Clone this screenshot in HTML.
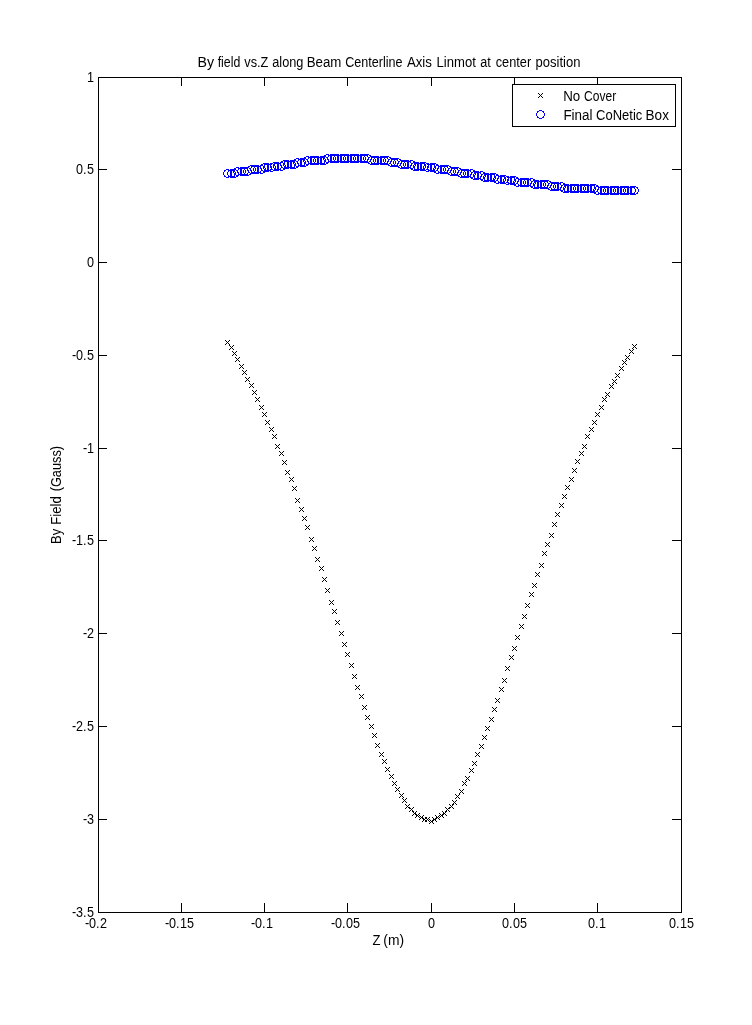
<!DOCTYPE html>
<html lang="en">
<head>
<meta charset="utf-8">
<title>By field vs.Z along Beam Centerline Axis Linmot at center position</title>
<style>
html,body{margin:0;padding:0;background:#fff;}
body{width:752px;height:1025px;overflow:hidden;}
svg{display:block;position:absolute;left:0;top:0;}
text{font-family:"Liberation Sans",sans-serif;font-size:14px;fill:#000;}
.px{shape-rendering:crispEdges;}
</style>
</head>
<body>
<svg width="752" height="1025" viewBox="0 0 752 1025">
<rect width="752" height="1025" fill="#fff"/>
<path class="px" fill="#000" d="M98 77h584v1h-584zM98 912h584v1h-584zM98 77h1v836h-1zM681 77h1v836h-1z"/>
<path class="px" fill="#000" d="M181 903h1v9h-1zM181 78h1v8h-1zM264 903h1v9h-1zM264 78h1v8h-1zM347 903h1v9h-1zM347 78h1v8h-1zM431 903h1v9h-1zM431 78h1v8h-1zM514 903h1v9h-1zM514 78h1v8h-1zM597 903h1v9h-1zM597 78h1v8h-1zM99 169h8v1h-8zM672 169h9v1h-9zM99 262h8v1h-8zM672 262h9v1h-9zM99 355h8v1h-8zM672 355h9v1h-9zM99 448h8v1h-8zM672 448h9v1h-9zM99 540h8v1h-8zM672 540h9v1h-9zM99 633h8v1h-8zM672 633h9v1h-9zM99 726h8v1h-8zM672 726h9v1h-9zM99 819h8v1h-8zM672 819h9v1h-9z"/>
<path class="px" fill="#000" d="M225 340h1v1h-1zM226 341h1v1h-1zM227 342h1v1h-1zM228 343h1v1h-1zM229 344h1v1h-1zM225 344h1v1h-1zM226 343h1v1h-1zM228 341h1v1h-1zM229 340h1v1h-1zM229 345h1v1h-1zM230 346h1v1h-1zM231 347h1v1h-1zM232 348h1v1h-1zM233 349h1v1h-1zM229 349h1v1h-1zM230 348h1v1h-1zM232 346h1v1h-1zM233 345h1v1h-1zM232 351h1v1h-1zM233 352h1v1h-1zM234 353h1v1h-1zM235 354h1v1h-1zM236 355h1v1h-1zM232 355h1v1h-1zM233 354h1v1h-1zM235 352h1v1h-1zM236 351h1v1h-1zM235 357h1v1h-1zM236 358h1v1h-1zM237 359h1v1h-1zM238 360h1v1h-1zM239 361h1v1h-1zM235 361h1v1h-1zM236 360h1v1h-1zM238 358h1v1h-1zM239 357h1v1h-1zM239 364h1v1h-1zM240 365h1v1h-1zM241 366h1v1h-1zM242 367h1v1h-1zM243 368h1v1h-1zM239 368h1v1h-1zM240 367h1v1h-1zM242 365h1v1h-1zM243 364h1v1h-1zM242 370h1v1h-1zM243 371h1v1h-1zM244 372h1v1h-1zM245 373h1v1h-1zM246 374h1v1h-1zM242 374h1v1h-1zM243 373h1v1h-1zM245 371h1v1h-1zM246 370h1v1h-1zM245 377h1v1h-1zM246 378h1v1h-1zM247 379h1v1h-1zM248 380h1v1h-1zM249 381h1v1h-1zM245 381h1v1h-1zM246 380h1v1h-1zM248 378h1v1h-1zM249 377h1v1h-1zM249 383h1v1h-1zM250 384h1v1h-1zM251 385h1v1h-1zM252 386h1v1h-1zM253 387h1v1h-1zM249 387h1v1h-1zM250 386h1v1h-1zM252 384h1v1h-1zM253 383h1v1h-1zM252 390h1v1h-1zM253 391h1v1h-1zM254 392h1v1h-1zM255 393h1v1h-1zM256 394h1v1h-1zM252 394h1v1h-1zM253 393h1v1h-1zM255 391h1v1h-1zM256 390h1v1h-1zM255 397h1v1h-1zM256 398h1v1h-1zM257 399h1v1h-1zM258 400h1v1h-1zM259 401h1v1h-1zM255 401h1v1h-1zM256 400h1v1h-1zM258 398h1v1h-1zM259 397h1v1h-1zM259 405h1v1h-1zM260 406h1v1h-1zM261 407h1v1h-1zM262 408h1v1h-1zM263 409h1v1h-1zM259 409h1v1h-1zM260 408h1v1h-1zM262 406h1v1h-1zM263 405h1v1h-1zM262 412h1v1h-1zM263 413h1v1h-1zM264 414h1v1h-1zM265 415h1v1h-1zM266 416h1v1h-1zM262 416h1v1h-1zM263 415h1v1h-1zM265 413h1v1h-1zM266 412h1v1h-1zM265 420h1v1h-1zM266 421h1v1h-1zM267 422h1v1h-1zM268 423h1v1h-1zM269 424h1v1h-1zM265 424h1v1h-1zM266 423h1v1h-1zM268 421h1v1h-1zM269 420h1v1h-1zM269 427h1v1h-1zM270 428h1v1h-1zM271 429h1v1h-1zM272 430h1v1h-1zM273 431h1v1h-1zM269 431h1v1h-1zM270 430h1v1h-1zM272 428h1v1h-1zM273 427h1v1h-1zM272 434h1v1h-1zM273 435h1v1h-1zM274 436h1v1h-1zM275 437h1v1h-1zM276 438h1v1h-1zM272 438h1v1h-1zM273 437h1v1h-1zM275 435h1v1h-1zM276 434h1v1h-1zM275 444h1v1h-1zM276 445h1v1h-1zM277 446h1v1h-1zM278 447h1v1h-1zM279 448h1v1h-1zM275 448h1v1h-1zM276 447h1v1h-1zM278 445h1v1h-1zM279 444h1v1h-1zM279 451h1v1h-1zM280 452h1v1h-1zM281 453h1v1h-1zM282 454h1v1h-1zM283 455h1v1h-1zM279 455h1v1h-1zM280 454h1v1h-1zM282 452h1v1h-1zM283 451h1v1h-1zM282 460h1v1h-1zM283 461h1v1h-1zM284 462h1v1h-1zM285 463h1v1h-1zM286 464h1v1h-1zM282 464h1v1h-1zM283 463h1v1h-1zM285 461h1v1h-1zM286 460h1v1h-1zM285 470h1v1h-1zM286 471h1v1h-1zM287 472h1v1h-1zM288 473h1v1h-1zM289 474h1v1h-1zM285 474h1v1h-1zM286 473h1v1h-1zM288 471h1v1h-1zM289 470h1v1h-1zM289 477h1v1h-1zM290 478h1v1h-1zM291 479h1v1h-1zM292 480h1v1h-1zM293 481h1v1h-1zM289 481h1v1h-1zM290 480h1v1h-1zM292 478h1v1h-1zM293 477h1v1h-1zM292 486h1v1h-1zM293 487h1v1h-1zM294 488h1v1h-1zM295 489h1v1h-1zM296 490h1v1h-1zM292 490h1v1h-1zM293 489h1v1h-1zM295 487h1v1h-1zM296 486h1v1h-1zM295 498h1v1h-1zM296 499h1v1h-1zM297 500h1v1h-1zM298 501h1v1h-1zM299 502h1v1h-1zM295 502h1v1h-1zM296 501h1v1h-1zM298 499h1v1h-1zM299 498h1v1h-1zM299 507h1v1h-1zM300 508h1v1h-1zM301 509h1v1h-1zM302 510h1v1h-1zM303 511h1v1h-1zM299 511h1v1h-1zM300 510h1v1h-1zM302 508h1v1h-1zM303 507h1v1h-1zM302 516h1v1h-1zM303 517h1v1h-1zM304 518h1v1h-1zM305 519h1v1h-1zM306 520h1v1h-1zM302 520h1v1h-1zM303 519h1v1h-1zM305 517h1v1h-1zM306 516h1v1h-1zM305 525h1v1h-1zM306 526h1v1h-1zM307 527h1v1h-1zM308 528h1v1h-1zM309 529h1v1h-1zM305 529h1v1h-1zM306 528h1v1h-1zM308 526h1v1h-1zM309 525h1v1h-1zM309 537h1v1h-1zM310 538h1v1h-1zM311 539h1v1h-1zM312 540h1v1h-1zM313 541h1v1h-1zM309 541h1v1h-1zM310 540h1v1h-1zM312 538h1v1h-1zM313 537h1v1h-1zM312 546h1v1h-1zM313 547h1v1h-1zM314 548h1v1h-1zM315 549h1v1h-1zM316 550h1v1h-1zM312 550h1v1h-1zM313 549h1v1h-1zM315 547h1v1h-1zM316 546h1v1h-1zM315 557h1v1h-1zM316 558h1v1h-1zM317 559h1v1h-1zM318 560h1v1h-1zM319 561h1v1h-1zM315 561h1v1h-1zM316 560h1v1h-1zM318 558h1v1h-1zM319 557h1v1h-1zM319 566h1v1h-1zM320 567h1v1h-1zM321 568h1v1h-1zM322 569h1v1h-1zM323 570h1v1h-1zM319 570h1v1h-1zM320 569h1v1h-1zM322 567h1v1h-1zM323 566h1v1h-1zM322 577h1v1h-1zM323 578h1v1h-1zM324 579h1v1h-1zM325 580h1v1h-1zM326 581h1v1h-1zM322 581h1v1h-1zM323 580h1v1h-1zM325 578h1v1h-1zM326 577h1v1h-1zM325 588h1v1h-1zM326 589h1v1h-1zM327 590h1v1h-1zM328 591h1v1h-1zM329 592h1v1h-1zM325 592h1v1h-1zM326 591h1v1h-1zM328 589h1v1h-1zM329 588h1v1h-1zM329 600h1v1h-1zM330 601h1v1h-1zM331 602h1v1h-1zM332 603h1v1h-1zM333 604h1v1h-1zM329 604h1v1h-1zM330 603h1v1h-1zM332 601h1v1h-1zM333 600h1v1h-1zM332 609h1v1h-1zM333 610h1v1h-1zM334 611h1v1h-1zM335 612h1v1h-1zM336 613h1v1h-1zM332 613h1v1h-1zM333 612h1v1h-1zM335 610h1v1h-1zM336 609h1v1h-1zM335 620h1v1h-1zM336 621h1v1h-1zM337 622h1v1h-1zM338 623h1v1h-1zM339 624h1v1h-1zM335 624h1v1h-1zM336 623h1v1h-1zM338 621h1v1h-1zM339 620h1v1h-1zM339 631h1v1h-1zM340 632h1v1h-1zM341 633h1v1h-1zM342 634h1v1h-1zM343 635h1v1h-1zM339 635h1v1h-1zM340 634h1v1h-1zM342 632h1v1h-1zM343 631h1v1h-1zM342 642h1v1h-1zM343 643h1v1h-1zM344 644h1v1h-1zM345 645h1v1h-1zM346 646h1v1h-1zM342 646h1v1h-1zM343 645h1v1h-1zM345 643h1v1h-1zM346 642h1v1h-1zM345 652h1v1h-1zM346 653h1v1h-1zM347 654h1v1h-1zM348 655h1v1h-1zM349 656h1v1h-1zM345 656h1v1h-1zM346 655h1v1h-1zM348 653h1v1h-1zM349 652h1v1h-1zM349 663h1v1h-1zM350 664h1v1h-1zM351 665h1v1h-1zM352 666h1v1h-1zM353 667h1v1h-1zM349 667h1v1h-1zM350 666h1v1h-1zM352 664h1v1h-1zM353 663h1v1h-1zM352 674h1v1h-1zM353 675h1v1h-1zM354 676h1v1h-1zM355 677h1v1h-1zM356 678h1v1h-1zM352 678h1v1h-1zM353 677h1v1h-1zM355 675h1v1h-1zM356 674h1v1h-1zM355 685h1v1h-1zM356 686h1v1h-1zM357 687h1v1h-1zM358 688h1v1h-1zM359 689h1v1h-1zM355 689h1v1h-1zM356 688h1v1h-1zM358 686h1v1h-1zM359 685h1v1h-1zM359 694h1v1h-1zM360 695h1v1h-1zM361 696h1v1h-1zM362 697h1v1h-1zM363 698h1v1h-1zM359 698h1v1h-1zM360 697h1v1h-1zM362 695h1v1h-1zM363 694h1v1h-1zM362 705h1v1h-1zM363 706h1v1h-1zM364 707h1v1h-1zM365 708h1v1h-1zM366 709h1v1h-1zM362 709h1v1h-1zM363 708h1v1h-1zM365 706h1v1h-1zM366 705h1v1h-1zM365 715h1v1h-1zM366 716h1v1h-1zM367 717h1v1h-1zM368 718h1v1h-1zM369 719h1v1h-1zM365 719h1v1h-1zM366 718h1v1h-1zM368 716h1v1h-1zM369 715h1v1h-1zM369 724h1v1h-1zM370 725h1v1h-1zM371 726h1v1h-1zM372 727h1v1h-1zM373 728h1v1h-1zM369 728h1v1h-1zM370 727h1v1h-1zM372 725h1v1h-1zM373 724h1v1h-1zM372 733h1v1h-1zM373 734h1v1h-1zM374 735h1v1h-1zM375 736h1v1h-1zM376 737h1v1h-1zM372 737h1v1h-1zM373 736h1v1h-1zM375 734h1v1h-1zM376 733h1v1h-1zM375 743h1v1h-1zM376 744h1v1h-1zM377 745h1v1h-1zM378 746h1v1h-1zM379 747h1v1h-1zM375 747h1v1h-1zM376 746h1v1h-1zM378 744h1v1h-1zM379 743h1v1h-1zM379 752h1v1h-1zM380 753h1v1h-1zM381 754h1v1h-1zM382 755h1v1h-1zM383 756h1v1h-1zM379 756h1v1h-1zM380 755h1v1h-1zM382 753h1v1h-1zM383 752h1v1h-1zM382 759h1v1h-1zM383 760h1v1h-1zM384 761h1v1h-1zM385 762h1v1h-1zM386 763h1v1h-1zM382 763h1v1h-1zM383 762h1v1h-1zM385 760h1v1h-1zM386 759h1v1h-1zM385 767h1v1h-1zM386 768h1v1h-1zM387 769h1v1h-1zM388 770h1v1h-1zM389 771h1v1h-1zM385 771h1v1h-1zM386 770h1v1h-1zM388 768h1v1h-1zM389 767h1v1h-1zM389 774h1v1h-1zM390 775h1v1h-1zM391 776h1v1h-1zM392 777h1v1h-1zM393 778h1v1h-1zM389 778h1v1h-1zM390 777h1v1h-1zM392 775h1v1h-1zM393 774h1v1h-1zM392 781h1v1h-1zM393 782h1v1h-1zM394 783h1v1h-1zM395 784h1v1h-1zM396 785h1v1h-1zM392 785h1v1h-1zM393 784h1v1h-1zM395 782h1v1h-1zM396 781h1v1h-1zM395 787h1v1h-1zM396 788h1v1h-1zM397 789h1v1h-1zM398 790h1v1h-1zM399 791h1v1h-1zM395 791h1v1h-1zM396 790h1v1h-1zM398 788h1v1h-1zM399 787h1v1h-1zM399 793h1v1h-1zM400 794h1v1h-1zM401 795h1v1h-1zM402 796h1v1h-1zM403 797h1v1h-1zM399 797h1v1h-1zM400 796h1v1h-1zM402 794h1v1h-1zM403 793h1v1h-1zM402 798h1v1h-1zM403 799h1v1h-1zM404 800h1v1h-1zM405 801h1v1h-1zM406 802h1v1h-1zM402 802h1v1h-1zM403 801h1v1h-1zM405 799h1v1h-1zM406 798h1v1h-1zM405 804h1v1h-1zM406 805h1v1h-1zM407 806h1v1h-1zM408 807h1v1h-1zM409 808h1v1h-1zM405 808h1v1h-1zM406 807h1v1h-1zM408 805h1v1h-1zM409 804h1v1h-1zM409 807h1v1h-1zM410 808h1v1h-1zM411 809h1v1h-1zM412 810h1v1h-1zM413 811h1v1h-1zM409 811h1v1h-1zM410 810h1v1h-1zM412 808h1v1h-1zM413 807h1v1h-1zM412 811h1v1h-1zM413 812h1v1h-1zM414 813h1v1h-1zM415 814h1v1h-1zM416 815h1v1h-1zM412 815h1v1h-1zM413 814h1v1h-1zM415 812h1v1h-1zM416 811h1v1h-1zM415 813h1v1h-1zM416 814h1v1h-1zM417 815h1v1h-1zM418 816h1v1h-1zM419 817h1v1h-1zM415 817h1v1h-1zM416 816h1v1h-1zM418 814h1v1h-1zM419 813h1v1h-1zM419 815h1v1h-1zM420 816h1v1h-1zM421 817h1v1h-1zM422 818h1v1h-1zM423 819h1v1h-1zM419 819h1v1h-1zM420 818h1v1h-1zM422 816h1v1h-1zM423 815h1v1h-1zM422 817h1v1h-1zM423 818h1v1h-1zM424 819h1v1h-1zM425 820h1v1h-1zM426 821h1v1h-1zM422 821h1v1h-1zM423 820h1v1h-1zM425 818h1v1h-1zM426 817h1v1h-1zM425 817h1v1h-1zM426 818h1v1h-1zM427 819h1v1h-1zM428 820h1v1h-1zM429 821h1v1h-1zM425 821h1v1h-1zM426 820h1v1h-1zM428 818h1v1h-1zM429 817h1v1h-1zM429 819h1v1h-1zM430 820h1v1h-1zM431 821h1v1h-1zM432 822h1v1h-1zM433 823h1v1h-1zM429 823h1v1h-1zM430 822h1v1h-1zM432 820h1v1h-1zM433 819h1v1h-1zM432 817h1v1h-1zM433 818h1v1h-1zM434 819h1v1h-1zM435 820h1v1h-1zM436 821h1v1h-1zM432 821h1v1h-1zM433 820h1v1h-1zM435 818h1v1h-1zM436 817h1v1h-1zM435 815h1v1h-1zM436 816h1v1h-1zM437 817h1v1h-1zM438 818h1v1h-1zM439 819h1v1h-1zM435 819h1v1h-1zM436 818h1v1h-1zM438 816h1v1h-1zM439 815h1v1h-1zM439 813h1v1h-1zM440 814h1v1h-1zM441 815h1v1h-1zM442 816h1v1h-1zM443 817h1v1h-1zM439 817h1v1h-1zM440 816h1v1h-1zM442 814h1v1h-1zM443 813h1v1h-1zM442 811h1v1h-1zM443 812h1v1h-1zM444 813h1v1h-1zM445 814h1v1h-1zM446 815h1v1h-1zM442 815h1v1h-1zM443 814h1v1h-1zM445 812h1v1h-1zM446 811h1v1h-1zM445 807h1v1h-1zM446 808h1v1h-1zM447 809h1v1h-1zM448 810h1v1h-1zM449 811h1v1h-1zM445 811h1v1h-1zM446 810h1v1h-1zM448 808h1v1h-1zM449 807h1v1h-1zM449 804h1v1h-1zM450 805h1v1h-1zM451 806h1v1h-1zM452 807h1v1h-1zM453 808h1v1h-1zM449 808h1v1h-1zM450 807h1v1h-1zM452 805h1v1h-1zM453 804h1v1h-1zM452 800h1v1h-1zM453 801h1v1h-1zM454 802h1v1h-1zM455 803h1v1h-1zM456 804h1v1h-1zM452 804h1v1h-1zM453 803h1v1h-1zM455 801h1v1h-1zM456 800h1v1h-1zM455 794h1v1h-1zM456 795h1v1h-1zM457 796h1v1h-1zM458 797h1v1h-1zM459 798h1v1h-1zM455 798h1v1h-1zM456 797h1v1h-1zM458 795h1v1h-1zM459 794h1v1h-1zM459 789h1v1h-1zM460 790h1v1h-1zM461 791h1v1h-1zM462 792h1v1h-1zM463 793h1v1h-1zM459 793h1v1h-1zM460 792h1v1h-1zM462 790h1v1h-1zM463 789h1v1h-1zM462 781h1v1h-1zM463 782h1v1h-1zM464 783h1v1h-1zM465 784h1v1h-1zM466 785h1v1h-1zM462 785h1v1h-1zM463 784h1v1h-1zM465 782h1v1h-1zM466 781h1v1h-1zM465 776h1v1h-1zM466 777h1v1h-1zM467 778h1v1h-1zM468 779h1v1h-1zM469 780h1v1h-1zM465 780h1v1h-1zM466 779h1v1h-1zM468 777h1v1h-1zM469 776h1v1h-1zM469 768h1v1h-1zM470 769h1v1h-1zM471 770h1v1h-1zM472 771h1v1h-1zM473 772h1v1h-1zM469 772h1v1h-1zM470 771h1v1h-1zM472 769h1v1h-1zM473 768h1v1h-1zM472 761h1v1h-1zM473 762h1v1h-1zM474 763h1v1h-1zM475 764h1v1h-1zM476 765h1v1h-1zM472 765h1v1h-1zM473 764h1v1h-1zM475 762h1v1h-1zM476 761h1v1h-1zM475 752h1v1h-1zM476 753h1v1h-1zM477 754h1v1h-1zM478 755h1v1h-1zM479 756h1v1h-1zM475 756h1v1h-1zM476 755h1v1h-1zM478 753h1v1h-1zM479 752h1v1h-1zM479 744h1v1h-1zM480 745h1v1h-1zM481 746h1v1h-1zM482 747h1v1h-1zM483 748h1v1h-1zM479 748h1v1h-1zM480 747h1v1h-1zM482 745h1v1h-1zM483 744h1v1h-1zM482 735h1v1h-1zM483 736h1v1h-1zM484 737h1v1h-1zM485 738h1v1h-1zM486 739h1v1h-1zM482 739h1v1h-1zM483 738h1v1h-1zM485 736h1v1h-1zM486 735h1v1h-1zM485 726h1v1h-1zM486 727h1v1h-1zM487 728h1v1h-1zM488 729h1v1h-1zM489 730h1v1h-1zM485 730h1v1h-1zM486 729h1v1h-1zM488 727h1v1h-1zM489 726h1v1h-1zM489 717h1v1h-1zM490 718h1v1h-1zM491 719h1v1h-1zM492 720h1v1h-1zM493 721h1v1h-1zM489 721h1v1h-1zM490 720h1v1h-1zM492 718h1v1h-1zM493 717h1v1h-1zM492 707h1v1h-1zM493 708h1v1h-1zM494 709h1v1h-1zM495 710h1v1h-1zM496 711h1v1h-1zM492 711h1v1h-1zM493 710h1v1h-1zM495 708h1v1h-1zM496 707h1v1h-1zM495 698h1v1h-1zM496 699h1v1h-1zM497 700h1v1h-1zM498 701h1v1h-1zM499 702h1v1h-1zM495 702h1v1h-1zM496 701h1v1h-1zM498 699h1v1h-1zM499 698h1v1h-1zM499 687h1v1h-1zM500 688h1v1h-1zM501 689h1v1h-1zM502 690h1v1h-1zM503 691h1v1h-1zM499 691h1v1h-1zM500 690h1v1h-1zM502 688h1v1h-1zM503 687h1v1h-1zM502 678h1v1h-1zM503 679h1v1h-1zM504 680h1v1h-1zM505 681h1v1h-1zM506 682h1v1h-1zM502 682h1v1h-1zM503 681h1v1h-1zM505 679h1v1h-1zM506 678h1v1h-1zM505 666h1v1h-1zM506 667h1v1h-1zM507 668h1v1h-1zM508 669h1v1h-1zM509 670h1v1h-1zM505 670h1v1h-1zM506 669h1v1h-1zM508 667h1v1h-1zM509 666h1v1h-1zM509 655h1v1h-1zM510 656h1v1h-1zM511 657h1v1h-1zM512 658h1v1h-1zM513 659h1v1h-1zM509 659h1v1h-1zM510 658h1v1h-1zM512 656h1v1h-1zM513 655h1v1h-1zM512 646h1v1h-1zM513 647h1v1h-1zM514 648h1v1h-1zM515 649h1v1h-1zM516 650h1v1h-1zM512 650h1v1h-1zM513 649h1v1h-1zM515 647h1v1h-1zM516 646h1v1h-1zM515 635h1v1h-1zM516 636h1v1h-1zM517 637h1v1h-1zM518 638h1v1h-1zM519 639h1v1h-1zM515 639h1v1h-1zM516 638h1v1h-1zM518 636h1v1h-1zM519 635h1v1h-1zM519 624h1v1h-1zM520 625h1v1h-1zM521 626h1v1h-1zM522 627h1v1h-1zM523 628h1v1h-1zM519 628h1v1h-1zM520 627h1v1h-1zM522 625h1v1h-1zM523 624h1v1h-1zM522 614h1v1h-1zM523 615h1v1h-1zM524 616h1v1h-1zM525 617h1v1h-1zM526 618h1v1h-1zM522 618h1v1h-1zM523 617h1v1h-1zM525 615h1v1h-1zM526 614h1v1h-1zM525 603h1v1h-1zM526 604h1v1h-1zM527 605h1v1h-1zM528 606h1v1h-1zM529 607h1v1h-1zM525 607h1v1h-1zM526 606h1v1h-1zM528 604h1v1h-1zM529 603h1v1h-1zM529 592h1v1h-1zM530 593h1v1h-1zM531 594h1v1h-1zM532 595h1v1h-1zM533 596h1v1h-1zM529 596h1v1h-1zM530 595h1v1h-1zM532 593h1v1h-1zM533 592h1v1h-1zM532 583h1v1h-1zM533 584h1v1h-1zM534 585h1v1h-1zM535 586h1v1h-1zM536 587h1v1h-1zM532 587h1v1h-1zM533 586h1v1h-1zM535 584h1v1h-1zM536 583h1v1h-1zM535 572h1v1h-1zM536 573h1v1h-1zM537 574h1v1h-1zM538 575h1v1h-1zM539 576h1v1h-1zM535 576h1v1h-1zM536 575h1v1h-1zM538 573h1v1h-1zM539 572h1v1h-1zM539 563h1v1h-1zM540 564h1v1h-1zM541 565h1v1h-1zM542 566h1v1h-1zM543 567h1v1h-1zM539 567h1v1h-1zM540 566h1v1h-1zM542 564h1v1h-1zM543 563h1v1h-1zM542 551h1v1h-1zM543 552h1v1h-1zM544 553h1v1h-1zM545 554h1v1h-1zM546 555h1v1h-1zM542 555h1v1h-1zM543 554h1v1h-1zM545 552h1v1h-1zM546 551h1v1h-1zM545 542h1v1h-1zM546 543h1v1h-1zM547 544h1v1h-1zM548 545h1v1h-1zM549 546h1v1h-1zM545 546h1v1h-1zM546 545h1v1h-1zM548 543h1v1h-1zM549 542h1v1h-1zM549 533h1v1h-1zM550 534h1v1h-1zM551 535h1v1h-1zM552 536h1v1h-1zM553 537h1v1h-1zM549 537h1v1h-1zM550 536h1v1h-1zM552 534h1v1h-1zM553 533h1v1h-1zM552 522h1v1h-1zM553 523h1v1h-1zM554 524h1v1h-1zM555 525h1v1h-1zM556 526h1v1h-1zM552 526h1v1h-1zM553 525h1v1h-1zM555 523h1v1h-1zM556 522h1v1h-1zM555 512h1v1h-1zM556 513h1v1h-1zM557 514h1v1h-1zM558 515h1v1h-1zM559 516h1v1h-1zM555 516h1v1h-1zM556 515h1v1h-1zM558 513h1v1h-1zM559 512h1v1h-1zM559 503h1v1h-1zM560 504h1v1h-1zM561 505h1v1h-1zM562 506h1v1h-1zM563 507h1v1h-1zM559 507h1v1h-1zM560 506h1v1h-1zM562 504h1v1h-1zM563 503h1v1h-1zM562 494h1v1h-1zM563 495h1v1h-1zM564 496h1v1h-1zM565 497h1v1h-1zM566 498h1v1h-1zM562 498h1v1h-1zM563 497h1v1h-1zM565 495h1v1h-1zM566 494h1v1h-1zM565 485h1v1h-1zM566 486h1v1h-1zM567 487h1v1h-1zM568 488h1v1h-1zM569 489h1v1h-1zM565 489h1v1h-1zM566 488h1v1h-1zM568 486h1v1h-1zM569 485h1v1h-1zM569 477h1v1h-1zM570 478h1v1h-1zM571 479h1v1h-1zM572 480h1v1h-1zM573 481h1v1h-1zM569 481h1v1h-1zM570 480h1v1h-1zM572 478h1v1h-1zM573 477h1v1h-1zM572 468h1v1h-1zM573 469h1v1h-1zM574 470h1v1h-1zM575 471h1v1h-1zM576 472h1v1h-1zM572 472h1v1h-1zM573 471h1v1h-1zM575 469h1v1h-1zM576 468h1v1h-1zM575 459h1v1h-1zM576 460h1v1h-1zM577 461h1v1h-1zM578 462h1v1h-1zM579 463h1v1h-1zM575 463h1v1h-1zM576 462h1v1h-1zM578 460h1v1h-1zM579 459h1v1h-1zM579 451h1v1h-1zM580 452h1v1h-1zM581 453h1v1h-1zM582 454h1v1h-1zM583 455h1v1h-1zM579 455h1v1h-1zM580 454h1v1h-1zM582 452h1v1h-1zM583 451h1v1h-1zM582 444h1v1h-1zM583 445h1v1h-1zM584 446h1v1h-1zM585 447h1v1h-1zM586 448h1v1h-1zM582 448h1v1h-1zM583 447h1v1h-1zM585 445h1v1h-1zM586 444h1v1h-1zM585 434h1v1h-1zM586 435h1v1h-1zM587 436h1v1h-1zM588 437h1v1h-1zM589 438h1v1h-1zM585 438h1v1h-1zM586 437h1v1h-1zM588 435h1v1h-1zM589 434h1v1h-1zM589 427h1v1h-1zM590 428h1v1h-1zM591 429h1v1h-1zM592 430h1v1h-1zM593 431h1v1h-1zM589 431h1v1h-1zM590 430h1v1h-1zM592 428h1v1h-1zM593 427h1v1h-1zM592 420h1v1h-1zM593 421h1v1h-1zM594 422h1v1h-1zM595 423h1v1h-1zM596 424h1v1h-1zM592 424h1v1h-1zM593 423h1v1h-1zM595 421h1v1h-1zM596 420h1v1h-1zM595 412h1v1h-1zM596 413h1v1h-1zM597 414h1v1h-1zM598 415h1v1h-1zM599 416h1v1h-1zM595 416h1v1h-1zM596 415h1v1h-1zM598 413h1v1h-1zM599 412h1v1h-1zM599 405h1v1h-1zM600 406h1v1h-1zM601 407h1v1h-1zM602 408h1v1h-1zM603 409h1v1h-1zM599 409h1v1h-1zM600 408h1v1h-1zM602 406h1v1h-1zM603 405h1v1h-1zM602 397h1v1h-1zM603 398h1v1h-1zM604 399h1v1h-1zM605 400h1v1h-1zM606 401h1v1h-1zM602 401h1v1h-1zM603 400h1v1h-1zM605 398h1v1h-1zM606 397h1v1h-1zM605 392h1v1h-1zM606 393h1v1h-1zM607 394h1v1h-1zM608 395h1v1h-1zM609 396h1v1h-1zM605 396h1v1h-1zM606 395h1v1h-1zM608 393h1v1h-1zM609 392h1v1h-1zM609 384h1v1h-1zM610 385h1v1h-1zM611 386h1v1h-1zM612 387h1v1h-1zM613 388h1v1h-1zM609 388h1v1h-1zM610 387h1v1h-1zM612 385h1v1h-1zM613 384h1v1h-1zM612 379h1v1h-1zM613 380h1v1h-1zM614 381h1v1h-1zM615 382h1v1h-1zM616 383h1v1h-1zM612 383h1v1h-1zM613 382h1v1h-1zM615 380h1v1h-1zM616 379h1v1h-1zM615 373h1v1h-1zM616 374h1v1h-1zM617 375h1v1h-1zM618 376h1v1h-1zM619 377h1v1h-1zM615 377h1v1h-1zM616 376h1v1h-1zM618 374h1v1h-1zM619 373h1v1h-1zM619 366h1v1h-1zM620 367h1v1h-1zM621 368h1v1h-1zM622 369h1v1h-1zM623 370h1v1h-1zM619 370h1v1h-1zM620 369h1v1h-1zM622 367h1v1h-1zM623 366h1v1h-1zM622 360h1v1h-1zM623 361h1v1h-1zM624 362h1v1h-1zM625 363h1v1h-1zM626 364h1v1h-1zM622 364h1v1h-1zM623 363h1v1h-1zM625 361h1v1h-1zM626 360h1v1h-1zM625 355h1v1h-1zM626 356h1v1h-1zM627 357h1v1h-1zM628 358h1v1h-1zM629 359h1v1h-1zM625 359h1v1h-1zM626 358h1v1h-1zM628 356h1v1h-1zM629 355h1v1h-1zM629 349h1v1h-1zM630 350h1v1h-1zM631 351h1v1h-1zM632 352h1v1h-1zM633 353h1v1h-1zM629 353h1v1h-1zM630 352h1v1h-1zM632 350h1v1h-1zM633 349h1v1h-1zM632 344h1v1h-1zM633 345h1v1h-1zM634 346h1v1h-1zM635 347h1v1h-1zM636 348h1v1h-1zM632 348h1v1h-1zM633 347h1v1h-1zM635 345h1v1h-1zM636 344h1v1h-1z"/>
<path class="px" fill="#00f" d="M226 169h3v1h-3zM224 170h2v1h-2zM229 170h2v1h-2zM224 171h1v1h-1zM230 171h1v1h-1zM223 172h1v1h-1zM231 172h1v1h-1zM223 173h1v1h-1zM231 173h1v1h-1zM223 174h1v1h-1zM231 174h1v1h-1zM224 175h1v1h-1zM230 175h1v1h-1zM224 176h2v1h-2zM229 176h2v1h-2zM226 177h3v1h-3zM230 169h3v1h-3zM228 170h2v1h-2zM233 170h2v1h-2zM228 171h1v1h-1zM234 171h1v1h-1zM227 172h1v1h-1zM235 172h1v1h-1zM227 173h1v1h-1zM235 173h1v1h-1zM227 174h1v1h-1zM235 174h1v1h-1zM228 175h1v1h-1zM234 175h1v1h-1zM228 176h2v1h-2zM233 176h2v1h-2zM230 177h3v1h-3zM233 169h3v1h-3zM231 170h2v1h-2zM236 170h2v1h-2zM231 171h1v1h-1zM237 171h1v1h-1zM230 172h1v1h-1zM238 172h1v1h-1zM230 173h1v1h-1zM238 173h1v1h-1zM230 174h1v1h-1zM238 174h1v1h-1zM231 175h1v1h-1zM237 175h1v1h-1zM231 176h2v1h-2zM236 176h2v1h-2zM233 177h3v1h-3zM236 167h3v1h-3zM234 168h2v1h-2zM239 168h2v1h-2zM234 169h1v1h-1zM240 169h1v1h-1zM233 170h1v1h-1zM241 170h1v1h-1zM233 171h1v1h-1zM241 171h1v1h-1zM233 172h1v1h-1zM241 172h1v1h-1zM234 173h1v1h-1zM240 173h1v1h-1zM234 174h2v1h-2zM239 174h2v1h-2zM236 175h3v1h-3zM240 167h3v1h-3zM238 168h2v1h-2zM243 168h2v1h-2zM238 169h1v1h-1zM244 169h1v1h-1zM237 170h1v1h-1zM245 170h1v1h-1zM237 171h1v1h-1zM245 171h1v1h-1zM237 172h1v1h-1zM245 172h1v1h-1zM238 173h1v1h-1zM244 173h1v1h-1zM238 174h2v1h-2zM243 174h2v1h-2zM240 175h3v1h-3zM243 167h3v1h-3zM241 168h2v1h-2zM246 168h2v1h-2zM241 169h1v1h-1zM247 169h1v1h-1zM240 170h1v1h-1zM248 170h1v1h-1zM240 171h1v1h-1zM248 171h1v1h-1zM240 172h1v1h-1zM248 172h1v1h-1zM241 173h1v1h-1zM247 173h1v1h-1zM241 174h2v1h-2zM246 174h2v1h-2zM243 175h3v1h-3zM246 167h3v1h-3zM244 168h2v1h-2zM249 168h2v1h-2zM244 169h1v1h-1zM250 169h1v1h-1zM243 170h1v1h-1zM251 170h1v1h-1zM243 171h1v1h-1zM251 171h1v1h-1zM243 172h1v1h-1zM251 172h1v1h-1zM244 173h1v1h-1zM250 173h1v1h-1zM244 174h2v1h-2zM249 174h2v1h-2zM246 175h3v1h-3zM250 165h3v1h-3zM248 166h2v1h-2zM253 166h2v1h-2zM248 167h1v1h-1zM254 167h1v1h-1zM247 168h1v1h-1zM255 168h1v1h-1zM247 169h1v1h-1zM255 169h1v1h-1zM247 170h1v1h-1zM255 170h1v1h-1zM248 171h1v1h-1zM254 171h1v1h-1zM248 172h2v1h-2zM253 172h2v1h-2zM250 173h3v1h-3zM253 165h3v1h-3zM251 166h2v1h-2zM256 166h2v1h-2zM251 167h1v1h-1zM257 167h1v1h-1zM250 168h1v1h-1zM258 168h1v1h-1zM250 169h1v1h-1zM258 169h1v1h-1zM250 170h1v1h-1zM258 170h1v1h-1zM251 171h1v1h-1zM257 171h1v1h-1zM251 172h2v1h-2zM256 172h2v1h-2zM253 173h3v1h-3zM256 165h3v1h-3zM254 166h2v1h-2zM259 166h2v1h-2zM254 167h1v1h-1zM260 167h1v1h-1zM253 168h1v1h-1zM261 168h1v1h-1zM253 169h1v1h-1zM261 169h1v1h-1zM253 170h1v1h-1zM261 170h1v1h-1zM254 171h1v1h-1zM260 171h1v1h-1zM254 172h2v1h-2zM259 172h2v1h-2zM256 173h3v1h-3zM260 165h3v1h-3zM258 166h2v1h-2zM263 166h2v1h-2zM258 167h1v1h-1zM264 167h1v1h-1zM257 168h1v1h-1zM265 168h1v1h-1zM257 169h1v1h-1zM265 169h1v1h-1zM257 170h1v1h-1zM265 170h1v1h-1zM258 171h1v1h-1zM264 171h1v1h-1zM258 172h2v1h-2zM263 172h2v1h-2zM260 173h3v1h-3zM263 163h3v1h-3zM261 164h2v1h-2zM266 164h2v1h-2zM261 165h1v1h-1zM267 165h1v1h-1zM260 166h1v1h-1zM268 166h1v1h-1zM260 167h1v1h-1zM268 167h1v1h-1zM260 168h1v1h-1zM268 168h1v1h-1zM261 169h1v1h-1zM267 169h1v1h-1zM261 170h2v1h-2zM266 170h2v1h-2zM263 171h3v1h-3zM266 163h3v1h-3zM264 164h2v1h-2zM269 164h2v1h-2zM264 165h1v1h-1zM270 165h1v1h-1zM263 166h1v1h-1zM271 166h1v1h-1zM263 167h1v1h-1zM271 167h1v1h-1zM263 168h1v1h-1zM271 168h1v1h-1zM264 169h1v1h-1zM270 169h1v1h-1zM264 170h2v1h-2zM269 170h2v1h-2zM266 171h3v1h-3zM270 163h3v1h-3zM268 164h2v1h-2zM273 164h2v1h-2zM268 165h1v1h-1zM274 165h1v1h-1zM267 166h1v1h-1zM275 166h1v1h-1zM267 167h1v1h-1zM275 167h1v1h-1zM267 168h1v1h-1zM275 168h1v1h-1zM268 169h1v1h-1zM274 169h1v1h-1zM268 170h2v1h-2zM273 170h2v1h-2zM270 171h3v1h-3zM273 162h3v1h-3zM271 163h2v1h-2zM276 163h2v1h-2zM271 164h1v1h-1zM277 164h1v1h-1zM270 165h1v1h-1zM278 165h1v1h-1zM270 166h1v1h-1zM278 166h1v1h-1zM270 167h1v1h-1zM278 167h1v1h-1zM271 168h1v1h-1zM277 168h1v1h-1zM271 169h2v1h-2zM276 169h2v1h-2zM273 170h3v1h-3zM276 162h3v1h-3zM274 163h2v1h-2zM279 163h2v1h-2zM274 164h1v1h-1zM280 164h1v1h-1zM273 165h1v1h-1zM281 165h1v1h-1zM273 166h1v1h-1zM281 166h1v1h-1zM273 167h1v1h-1zM281 167h1v1h-1zM274 168h1v1h-1zM280 168h1v1h-1zM274 169h2v1h-2zM279 169h2v1h-2zM276 170h3v1h-3zM280 162h3v1h-3zM278 163h2v1h-2zM283 163h2v1h-2zM278 164h1v1h-1zM284 164h1v1h-1zM277 165h1v1h-1zM285 165h1v1h-1zM277 166h1v1h-1zM285 166h1v1h-1zM277 167h1v1h-1zM285 167h1v1h-1zM278 168h1v1h-1zM284 168h1v1h-1zM278 169h2v1h-2zM283 169h2v1h-2zM280 170h3v1h-3zM283 160h3v1h-3zM281 161h2v1h-2zM286 161h2v1h-2zM281 162h1v1h-1zM287 162h1v1h-1zM280 163h1v1h-1zM288 163h1v1h-1zM280 164h1v1h-1zM288 164h1v1h-1zM280 165h1v1h-1zM288 165h1v1h-1zM281 166h1v1h-1zM287 166h1v1h-1zM281 167h2v1h-2zM286 167h2v1h-2zM283 168h3v1h-3zM286 160h3v1h-3zM284 161h2v1h-2zM289 161h2v1h-2zM284 162h1v1h-1zM290 162h1v1h-1zM283 163h1v1h-1zM291 163h1v1h-1zM283 164h1v1h-1zM291 164h1v1h-1zM283 165h1v1h-1zM291 165h1v1h-1zM284 166h1v1h-1zM290 166h1v1h-1zM284 167h2v1h-2zM289 167h2v1h-2zM286 168h3v1h-3zM290 160h3v1h-3zM288 161h2v1h-2zM293 161h2v1h-2zM288 162h1v1h-1zM294 162h1v1h-1zM287 163h1v1h-1zM295 163h1v1h-1zM287 164h1v1h-1zM295 164h1v1h-1zM287 165h1v1h-1zM295 165h1v1h-1zM288 166h1v1h-1zM294 166h1v1h-1zM288 167h2v1h-2zM293 167h2v1h-2zM290 168h3v1h-3zM293 160h3v1h-3zM291 161h2v1h-2zM296 161h2v1h-2zM291 162h1v1h-1zM297 162h1v1h-1zM290 163h1v1h-1zM298 163h1v1h-1zM290 164h1v1h-1zM298 164h1v1h-1zM290 165h1v1h-1zM298 165h1v1h-1zM291 166h1v1h-1zM297 166h1v1h-1zM291 167h2v1h-2zM296 167h2v1h-2zM293 168h3v1h-3zM296 158h3v1h-3zM294 159h2v1h-2zM299 159h2v1h-2zM294 160h1v1h-1zM300 160h1v1h-1zM293 161h1v1h-1zM301 161h1v1h-1zM293 162h1v1h-1zM301 162h1v1h-1zM293 163h1v1h-1zM301 163h1v1h-1zM294 164h1v1h-1zM300 164h1v1h-1zM294 165h2v1h-2zM299 165h2v1h-2zM296 166h3v1h-3zM300 158h3v1h-3zM298 159h2v1h-2zM303 159h2v1h-2zM298 160h1v1h-1zM304 160h1v1h-1zM297 161h1v1h-1zM305 161h1v1h-1zM297 162h1v1h-1zM305 162h1v1h-1zM297 163h1v1h-1zM305 163h1v1h-1zM298 164h1v1h-1zM304 164h1v1h-1zM298 165h2v1h-2zM303 165h2v1h-2zM300 166h3v1h-3zM303 158h3v1h-3zM301 159h2v1h-2zM306 159h2v1h-2zM301 160h1v1h-1zM307 160h1v1h-1zM300 161h1v1h-1zM308 161h1v1h-1zM300 162h1v1h-1zM308 162h1v1h-1zM300 163h1v1h-1zM308 163h1v1h-1zM301 164h1v1h-1zM307 164h1v1h-1zM301 165h2v1h-2zM306 165h2v1h-2zM303 166h3v1h-3zM306 156h3v1h-3zM304 157h2v1h-2zM309 157h2v1h-2zM304 158h1v1h-1zM310 158h1v1h-1zM303 159h1v1h-1zM311 159h1v1h-1zM303 160h1v1h-1zM311 160h1v1h-1zM303 161h1v1h-1zM311 161h1v1h-1zM304 162h1v1h-1zM310 162h1v1h-1zM304 163h2v1h-2zM309 163h2v1h-2zM306 164h3v1h-3zM310 156h3v1h-3zM308 157h2v1h-2zM313 157h2v1h-2zM308 158h1v1h-1zM314 158h1v1h-1zM307 159h1v1h-1zM315 159h1v1h-1zM307 160h1v1h-1zM315 160h1v1h-1zM307 161h1v1h-1zM315 161h1v1h-1zM308 162h1v1h-1zM314 162h1v1h-1zM308 163h2v1h-2zM313 163h2v1h-2zM310 164h3v1h-3zM313 156h3v1h-3zM311 157h2v1h-2zM316 157h2v1h-2zM311 158h1v1h-1zM317 158h1v1h-1zM310 159h1v1h-1zM318 159h1v1h-1zM310 160h1v1h-1zM318 160h1v1h-1zM310 161h1v1h-1zM318 161h1v1h-1zM311 162h1v1h-1zM317 162h1v1h-1zM311 163h2v1h-2zM316 163h2v1h-2zM313 164h3v1h-3zM316 156h3v1h-3zM314 157h2v1h-2zM319 157h2v1h-2zM314 158h1v1h-1zM320 158h1v1h-1zM313 159h1v1h-1zM321 159h1v1h-1zM313 160h1v1h-1zM321 160h1v1h-1zM313 161h1v1h-1zM321 161h1v1h-1zM314 162h1v1h-1zM320 162h1v1h-1zM314 163h2v1h-2zM319 163h2v1h-2zM316 164h3v1h-3zM320 156h3v1h-3zM318 157h2v1h-2zM323 157h2v1h-2zM318 158h1v1h-1zM324 158h1v1h-1zM317 159h1v1h-1zM325 159h1v1h-1zM317 160h1v1h-1zM325 160h1v1h-1zM317 161h1v1h-1zM325 161h1v1h-1zM318 162h1v1h-1zM324 162h1v1h-1zM318 163h2v1h-2zM323 163h2v1h-2zM320 164h3v1h-3zM323 156h3v1h-3zM321 157h2v1h-2zM326 157h2v1h-2zM321 158h1v1h-1zM327 158h1v1h-1zM320 159h1v1h-1zM328 159h1v1h-1zM320 160h1v1h-1zM328 160h1v1h-1zM320 161h1v1h-1zM328 161h1v1h-1zM321 162h1v1h-1zM327 162h1v1h-1zM321 163h2v1h-2zM326 163h2v1h-2zM323 164h3v1h-3zM326 154h3v1h-3zM324 155h2v1h-2zM329 155h2v1h-2zM324 156h1v1h-1zM330 156h1v1h-1zM323 157h1v1h-1zM331 157h1v1h-1zM323 158h1v1h-1zM331 158h1v1h-1zM323 159h1v1h-1zM331 159h1v1h-1zM324 160h1v1h-1zM330 160h1v1h-1zM324 161h2v1h-2zM329 161h2v1h-2zM326 162h3v1h-3zM330 154h3v1h-3zM328 155h2v1h-2zM333 155h2v1h-2zM328 156h1v1h-1zM334 156h1v1h-1zM327 157h1v1h-1zM335 157h1v1h-1zM327 158h1v1h-1zM335 158h1v1h-1zM327 159h1v1h-1zM335 159h1v1h-1zM328 160h1v1h-1zM334 160h1v1h-1zM328 161h2v1h-2zM333 161h2v1h-2zM330 162h3v1h-3zM333 154h3v1h-3zM331 155h2v1h-2zM336 155h2v1h-2zM331 156h1v1h-1zM337 156h1v1h-1zM330 157h1v1h-1zM338 157h1v1h-1zM330 158h1v1h-1zM338 158h1v1h-1zM330 159h1v1h-1zM338 159h1v1h-1zM331 160h1v1h-1zM337 160h1v1h-1zM331 161h2v1h-2zM336 161h2v1h-2zM333 162h3v1h-3zM336 154h3v1h-3zM334 155h2v1h-2zM339 155h2v1h-2zM334 156h1v1h-1zM340 156h1v1h-1zM333 157h1v1h-1zM341 157h1v1h-1zM333 158h1v1h-1zM341 158h1v1h-1zM333 159h1v1h-1zM341 159h1v1h-1zM334 160h1v1h-1zM340 160h1v1h-1zM334 161h2v1h-2zM339 161h2v1h-2zM336 162h3v1h-3zM340 154h3v1h-3zM338 155h2v1h-2zM343 155h2v1h-2zM338 156h1v1h-1zM344 156h1v1h-1zM337 157h1v1h-1zM345 157h1v1h-1zM337 158h1v1h-1zM345 158h1v1h-1zM337 159h1v1h-1zM345 159h1v1h-1zM338 160h1v1h-1zM344 160h1v1h-1zM338 161h2v1h-2zM343 161h2v1h-2zM340 162h3v1h-3zM343 154h3v1h-3zM341 155h2v1h-2zM346 155h2v1h-2zM341 156h1v1h-1zM347 156h1v1h-1zM340 157h1v1h-1zM348 157h1v1h-1zM340 158h1v1h-1zM348 158h1v1h-1zM340 159h1v1h-1zM348 159h1v1h-1zM341 160h1v1h-1zM347 160h1v1h-1zM341 161h2v1h-2zM346 161h2v1h-2zM343 162h3v1h-3zM346 154h3v1h-3zM344 155h2v1h-2zM349 155h2v1h-2zM344 156h1v1h-1zM350 156h1v1h-1zM343 157h1v1h-1zM351 157h1v1h-1zM343 158h1v1h-1zM351 158h1v1h-1zM343 159h1v1h-1zM351 159h1v1h-1zM344 160h1v1h-1zM350 160h1v1h-1zM344 161h2v1h-2zM349 161h2v1h-2zM346 162h3v1h-3zM350 154h3v1h-3zM348 155h2v1h-2zM353 155h2v1h-2zM348 156h1v1h-1zM354 156h1v1h-1zM347 157h1v1h-1zM355 157h1v1h-1zM347 158h1v1h-1zM355 158h1v1h-1zM347 159h1v1h-1zM355 159h1v1h-1zM348 160h1v1h-1zM354 160h1v1h-1zM348 161h2v1h-2zM353 161h2v1h-2zM350 162h3v1h-3zM353 154h3v1h-3zM351 155h2v1h-2zM356 155h2v1h-2zM351 156h1v1h-1zM357 156h1v1h-1zM350 157h1v1h-1zM358 157h1v1h-1zM350 158h1v1h-1zM358 158h1v1h-1zM350 159h1v1h-1zM358 159h1v1h-1zM351 160h1v1h-1zM357 160h1v1h-1zM351 161h2v1h-2zM356 161h2v1h-2zM353 162h3v1h-3zM356 154h3v1h-3zM354 155h2v1h-2zM359 155h2v1h-2zM354 156h1v1h-1zM360 156h1v1h-1zM353 157h1v1h-1zM361 157h1v1h-1zM353 158h1v1h-1zM361 158h1v1h-1zM353 159h1v1h-1zM361 159h1v1h-1zM354 160h1v1h-1zM360 160h1v1h-1zM354 161h2v1h-2zM359 161h2v1h-2zM356 162h3v1h-3zM360 154h3v1h-3zM358 155h2v1h-2zM363 155h2v1h-2zM358 156h1v1h-1zM364 156h1v1h-1zM357 157h1v1h-1zM365 157h1v1h-1zM357 158h1v1h-1zM365 158h1v1h-1zM357 159h1v1h-1zM365 159h1v1h-1zM358 160h1v1h-1zM364 160h1v1h-1zM358 161h2v1h-2zM363 161h2v1h-2zM360 162h3v1h-3zM363 154h3v1h-3zM361 155h2v1h-2zM366 155h2v1h-2zM361 156h1v1h-1zM367 156h1v1h-1zM360 157h1v1h-1zM368 157h1v1h-1zM360 158h1v1h-1zM368 158h1v1h-1zM360 159h1v1h-1zM368 159h1v1h-1zM361 160h1v1h-1zM367 160h1v1h-1zM361 161h2v1h-2zM366 161h2v1h-2zM363 162h3v1h-3zM366 154h3v1h-3zM364 155h2v1h-2zM369 155h2v1h-2zM364 156h1v1h-1zM370 156h1v1h-1zM363 157h1v1h-1zM371 157h1v1h-1zM363 158h1v1h-1zM371 158h1v1h-1zM363 159h1v1h-1zM371 159h1v1h-1zM364 160h1v1h-1zM370 160h1v1h-1zM364 161h2v1h-2zM369 161h2v1h-2zM366 162h3v1h-3zM370 156h3v1h-3zM368 157h2v1h-2zM373 157h2v1h-2zM368 158h1v1h-1zM374 158h1v1h-1zM367 159h1v1h-1zM375 159h1v1h-1zM367 160h1v1h-1zM375 160h1v1h-1zM367 161h1v1h-1zM375 161h1v1h-1zM368 162h1v1h-1zM374 162h1v1h-1zM368 163h2v1h-2zM373 163h2v1h-2zM370 164h3v1h-3zM373 156h3v1h-3zM371 157h2v1h-2zM376 157h2v1h-2zM371 158h1v1h-1zM377 158h1v1h-1zM370 159h1v1h-1zM378 159h1v1h-1zM370 160h1v1h-1zM378 160h1v1h-1zM370 161h1v1h-1zM378 161h1v1h-1zM371 162h1v1h-1zM377 162h1v1h-1zM371 163h2v1h-2zM376 163h2v1h-2zM373 164h3v1h-3zM376 156h3v1h-3zM374 157h2v1h-2zM379 157h2v1h-2zM374 158h1v1h-1zM380 158h1v1h-1zM373 159h1v1h-1zM381 159h1v1h-1zM373 160h1v1h-1zM381 160h1v1h-1zM373 161h1v1h-1zM381 161h1v1h-1zM374 162h1v1h-1zM380 162h1v1h-1zM374 163h2v1h-2zM379 163h2v1h-2zM376 164h3v1h-3zM380 156h3v1h-3zM378 157h2v1h-2zM383 157h2v1h-2zM378 158h1v1h-1zM384 158h1v1h-1zM377 159h1v1h-1zM385 159h1v1h-1zM377 160h1v1h-1zM385 160h1v1h-1zM377 161h1v1h-1zM385 161h1v1h-1zM378 162h1v1h-1zM384 162h1v1h-1zM378 163h2v1h-2zM383 163h2v1h-2zM380 164h3v1h-3zM383 156h3v1h-3zM381 157h2v1h-2zM386 157h2v1h-2zM381 158h1v1h-1zM387 158h1v1h-1zM380 159h1v1h-1zM388 159h1v1h-1zM380 160h1v1h-1zM388 160h1v1h-1zM380 161h1v1h-1zM388 161h1v1h-1zM381 162h1v1h-1zM387 162h1v1h-1zM381 163h2v1h-2zM386 163h2v1h-2zM383 164h3v1h-3zM386 156h3v1h-3zM384 157h2v1h-2zM389 157h2v1h-2zM384 158h1v1h-1zM390 158h1v1h-1zM383 159h1v1h-1zM391 159h1v1h-1zM383 160h1v1h-1zM391 160h1v1h-1zM383 161h1v1h-1zM391 161h1v1h-1zM384 162h1v1h-1zM390 162h1v1h-1zM384 163h2v1h-2zM389 163h2v1h-2zM386 164h3v1h-3zM390 158h3v1h-3zM388 159h2v1h-2zM393 159h2v1h-2zM388 160h1v1h-1zM394 160h1v1h-1zM387 161h1v1h-1zM395 161h1v1h-1zM387 162h1v1h-1zM395 162h1v1h-1zM387 163h1v1h-1zM395 163h1v1h-1zM388 164h1v1h-1zM394 164h1v1h-1zM388 165h2v1h-2zM393 165h2v1h-2zM390 166h3v1h-3zM393 158h3v1h-3zM391 159h2v1h-2zM396 159h2v1h-2zM391 160h1v1h-1zM397 160h1v1h-1zM390 161h1v1h-1zM398 161h1v1h-1zM390 162h1v1h-1zM398 162h1v1h-1zM390 163h1v1h-1zM398 163h1v1h-1zM391 164h1v1h-1zM397 164h1v1h-1zM391 165h2v1h-2zM396 165h2v1h-2zM393 166h3v1h-3zM396 158h3v1h-3zM394 159h2v1h-2zM399 159h2v1h-2zM394 160h1v1h-1zM400 160h1v1h-1zM393 161h1v1h-1zM401 161h1v1h-1zM393 162h1v1h-1zM401 162h1v1h-1zM393 163h1v1h-1zM401 163h1v1h-1zM394 164h1v1h-1zM400 164h1v1h-1zM394 165h2v1h-2zM399 165h2v1h-2zM396 166h3v1h-3zM400 160h3v1h-3zM398 161h2v1h-2zM403 161h2v1h-2zM398 162h1v1h-1zM404 162h1v1h-1zM397 163h1v1h-1zM405 163h1v1h-1zM397 164h1v1h-1zM405 164h1v1h-1zM397 165h1v1h-1zM405 165h1v1h-1zM398 166h1v1h-1zM404 166h1v1h-1zM398 167h2v1h-2zM403 167h2v1h-2zM400 168h3v1h-3zM403 160h3v1h-3zM401 161h2v1h-2zM406 161h2v1h-2zM401 162h1v1h-1zM407 162h1v1h-1zM400 163h1v1h-1zM408 163h1v1h-1zM400 164h1v1h-1zM408 164h1v1h-1zM400 165h1v1h-1zM408 165h1v1h-1zM401 166h1v1h-1zM407 166h1v1h-1zM401 167h2v1h-2zM406 167h2v1h-2zM403 168h3v1h-3zM406 160h3v1h-3zM404 161h2v1h-2zM409 161h2v1h-2zM404 162h1v1h-1zM410 162h1v1h-1zM403 163h1v1h-1zM411 163h1v1h-1zM403 164h1v1h-1zM411 164h1v1h-1zM403 165h1v1h-1zM411 165h1v1h-1zM404 166h1v1h-1zM410 166h1v1h-1zM404 167h2v1h-2zM409 167h2v1h-2zM406 168h3v1h-3zM410 160h3v1h-3zM408 161h2v1h-2zM413 161h2v1h-2zM408 162h1v1h-1zM414 162h1v1h-1zM407 163h1v1h-1zM415 163h1v1h-1zM407 164h1v1h-1zM415 164h1v1h-1zM407 165h1v1h-1zM415 165h1v1h-1zM408 166h1v1h-1zM414 166h1v1h-1zM408 167h2v1h-2zM413 167h2v1h-2zM410 168h3v1h-3zM413 162h3v1h-3zM411 163h2v1h-2zM416 163h2v1h-2zM411 164h1v1h-1zM417 164h1v1h-1zM410 165h1v1h-1zM418 165h1v1h-1zM410 166h1v1h-1zM418 166h1v1h-1zM410 167h1v1h-1zM418 167h1v1h-1zM411 168h1v1h-1zM417 168h1v1h-1zM411 169h2v1h-2zM416 169h2v1h-2zM413 170h3v1h-3zM416 162h3v1h-3zM414 163h2v1h-2zM419 163h2v1h-2zM414 164h1v1h-1zM420 164h1v1h-1zM413 165h1v1h-1zM421 165h1v1h-1zM413 166h1v1h-1zM421 166h1v1h-1zM413 167h1v1h-1zM421 167h1v1h-1zM414 168h1v1h-1zM420 168h1v1h-1zM414 169h2v1h-2zM419 169h2v1h-2zM416 170h3v1h-3zM420 162h3v1h-3zM418 163h2v1h-2zM423 163h2v1h-2zM418 164h1v1h-1zM424 164h1v1h-1zM417 165h1v1h-1zM425 165h1v1h-1zM417 166h1v1h-1zM425 166h1v1h-1zM417 167h1v1h-1zM425 167h1v1h-1zM418 168h1v1h-1zM424 168h1v1h-1zM418 169h2v1h-2zM423 169h2v1h-2zM420 170h3v1h-3zM423 162h3v1h-3zM421 163h2v1h-2zM426 163h2v1h-2zM421 164h1v1h-1zM427 164h1v1h-1zM420 165h1v1h-1zM428 165h1v1h-1zM420 166h1v1h-1zM428 166h1v1h-1zM420 167h1v1h-1zM428 167h1v1h-1zM421 168h1v1h-1zM427 168h1v1h-1zM421 169h2v1h-2zM426 169h2v1h-2zM423 170h3v1h-3zM426 163h3v1h-3zM424 164h2v1h-2zM429 164h2v1h-2zM424 165h1v1h-1zM430 165h1v1h-1zM423 166h1v1h-1zM431 166h1v1h-1zM423 167h1v1h-1zM431 167h1v1h-1zM423 168h1v1h-1zM431 168h1v1h-1zM424 169h1v1h-1zM430 169h1v1h-1zM424 170h2v1h-2zM429 170h2v1h-2zM426 171h3v1h-3zM430 163h3v1h-3zM428 164h2v1h-2zM433 164h2v1h-2zM428 165h1v1h-1zM434 165h1v1h-1zM427 166h1v1h-1zM435 166h1v1h-1zM427 167h1v1h-1zM435 167h1v1h-1zM427 168h1v1h-1zM435 168h1v1h-1zM428 169h1v1h-1zM434 169h1v1h-1zM428 170h2v1h-2zM433 170h2v1h-2zM430 171h3v1h-3zM433 163h3v1h-3zM431 164h2v1h-2zM436 164h2v1h-2zM431 165h1v1h-1zM437 165h1v1h-1zM430 166h1v1h-1zM438 166h1v1h-1zM430 167h1v1h-1zM438 167h1v1h-1zM430 168h1v1h-1zM438 168h1v1h-1zM431 169h1v1h-1zM437 169h1v1h-1zM431 170h2v1h-2zM436 170h2v1h-2zM433 171h3v1h-3zM436 165h3v1h-3zM434 166h2v1h-2zM439 166h2v1h-2zM434 167h1v1h-1zM440 167h1v1h-1zM433 168h1v1h-1zM441 168h1v1h-1zM433 169h1v1h-1zM441 169h1v1h-1zM433 170h1v1h-1zM441 170h1v1h-1zM434 171h1v1h-1zM440 171h1v1h-1zM434 172h2v1h-2zM439 172h2v1h-2zM436 173h3v1h-3zM440 165h3v1h-3zM438 166h2v1h-2zM443 166h2v1h-2zM438 167h1v1h-1zM444 167h1v1h-1zM437 168h1v1h-1zM445 168h1v1h-1zM437 169h1v1h-1zM445 169h1v1h-1zM437 170h1v1h-1zM445 170h1v1h-1zM438 171h1v1h-1zM444 171h1v1h-1zM438 172h2v1h-2zM443 172h2v1h-2zM440 173h3v1h-3zM443 165h3v1h-3zM441 166h2v1h-2zM446 166h2v1h-2zM441 167h1v1h-1zM447 167h1v1h-1zM440 168h1v1h-1zM448 168h1v1h-1zM440 169h1v1h-1zM448 169h1v1h-1zM440 170h1v1h-1zM448 170h1v1h-1zM441 171h1v1h-1zM447 171h1v1h-1zM441 172h2v1h-2zM446 172h2v1h-2zM443 173h3v1h-3zM446 165h3v1h-3zM444 166h2v1h-2zM449 166h2v1h-2zM444 167h1v1h-1zM450 167h1v1h-1zM443 168h1v1h-1zM451 168h1v1h-1zM443 169h1v1h-1zM451 169h1v1h-1zM443 170h1v1h-1zM451 170h1v1h-1zM444 171h1v1h-1zM450 171h1v1h-1zM444 172h2v1h-2zM449 172h2v1h-2zM446 173h3v1h-3zM450 167h3v1h-3zM448 168h2v1h-2zM453 168h2v1h-2zM448 169h1v1h-1zM454 169h1v1h-1zM447 170h1v1h-1zM455 170h1v1h-1zM447 171h1v1h-1zM455 171h1v1h-1zM447 172h1v1h-1zM455 172h1v1h-1zM448 173h1v1h-1zM454 173h1v1h-1zM448 174h2v1h-2zM453 174h2v1h-2zM450 175h3v1h-3zM453 167h3v1h-3zM451 168h2v1h-2zM456 168h2v1h-2zM451 169h1v1h-1zM457 169h1v1h-1zM450 170h1v1h-1zM458 170h1v1h-1zM450 171h1v1h-1zM458 171h1v1h-1zM450 172h1v1h-1zM458 172h1v1h-1zM451 173h1v1h-1zM457 173h1v1h-1zM451 174h2v1h-2zM456 174h2v1h-2zM453 175h3v1h-3zM456 167h3v1h-3zM454 168h2v1h-2zM459 168h2v1h-2zM454 169h1v1h-1zM460 169h1v1h-1zM453 170h1v1h-1zM461 170h1v1h-1zM453 171h1v1h-1zM461 171h1v1h-1zM453 172h1v1h-1zM461 172h1v1h-1zM454 173h1v1h-1zM460 173h1v1h-1zM454 174h2v1h-2zM459 174h2v1h-2zM456 175h3v1h-3zM460 169h3v1h-3zM458 170h2v1h-2zM463 170h2v1h-2zM458 171h1v1h-1zM464 171h1v1h-1zM457 172h1v1h-1zM465 172h1v1h-1zM457 173h1v1h-1zM465 173h1v1h-1zM457 174h1v1h-1zM465 174h1v1h-1zM458 175h1v1h-1zM464 175h1v1h-1zM458 176h2v1h-2zM463 176h2v1h-2zM460 177h3v1h-3zM463 169h3v1h-3zM461 170h2v1h-2zM466 170h2v1h-2zM461 171h1v1h-1zM467 171h1v1h-1zM460 172h1v1h-1zM468 172h1v1h-1zM460 173h1v1h-1zM468 173h1v1h-1zM460 174h1v1h-1zM468 174h1v1h-1zM461 175h1v1h-1zM467 175h1v1h-1zM461 176h2v1h-2zM466 176h2v1h-2zM463 177h3v1h-3zM466 169h3v1h-3zM464 170h2v1h-2zM469 170h2v1h-2zM464 171h1v1h-1zM470 171h1v1h-1zM463 172h1v1h-1zM471 172h1v1h-1zM463 173h1v1h-1zM471 173h1v1h-1zM463 174h1v1h-1zM471 174h1v1h-1zM464 175h1v1h-1zM470 175h1v1h-1zM464 176h2v1h-2zM469 176h2v1h-2zM466 177h3v1h-3zM470 169h3v1h-3zM468 170h2v1h-2zM473 170h2v1h-2zM468 171h1v1h-1zM474 171h1v1h-1zM467 172h1v1h-1zM475 172h1v1h-1zM467 173h1v1h-1zM475 173h1v1h-1zM467 174h1v1h-1zM475 174h1v1h-1zM468 175h1v1h-1zM474 175h1v1h-1zM468 176h2v1h-2zM473 176h2v1h-2zM470 177h3v1h-3zM473 171h3v1h-3zM471 172h2v1h-2zM476 172h2v1h-2zM471 173h1v1h-1zM477 173h1v1h-1zM470 174h1v1h-1zM478 174h1v1h-1zM470 175h1v1h-1zM478 175h1v1h-1zM470 176h1v1h-1zM478 176h1v1h-1zM471 177h1v1h-1zM477 177h1v1h-1zM471 178h2v1h-2zM476 178h2v1h-2zM473 179h3v1h-3zM476 171h3v1h-3zM474 172h2v1h-2zM479 172h2v1h-2zM474 173h1v1h-1zM480 173h1v1h-1zM473 174h1v1h-1zM481 174h1v1h-1zM473 175h1v1h-1zM481 175h1v1h-1zM473 176h1v1h-1zM481 176h1v1h-1zM474 177h1v1h-1zM480 177h1v1h-1zM474 178h2v1h-2zM479 178h2v1h-2zM476 179h3v1h-3zM480 171h3v1h-3zM478 172h2v1h-2zM483 172h2v1h-2zM478 173h1v1h-1zM484 173h1v1h-1zM477 174h1v1h-1zM485 174h1v1h-1zM477 175h1v1h-1zM485 175h1v1h-1zM477 176h1v1h-1zM485 176h1v1h-1zM478 177h1v1h-1zM484 177h1v1h-1zM478 178h2v1h-2zM483 178h2v1h-2zM480 179h3v1h-3zM483 173h3v1h-3zM481 174h2v1h-2zM486 174h2v1h-2zM481 175h1v1h-1zM487 175h1v1h-1zM480 176h1v1h-1zM488 176h1v1h-1zM480 177h1v1h-1zM488 177h1v1h-1zM480 178h1v1h-1zM488 178h1v1h-1zM481 179h1v1h-1zM487 179h1v1h-1zM481 180h2v1h-2zM486 180h2v1h-2zM483 181h3v1h-3zM486 173h3v1h-3zM484 174h2v1h-2zM489 174h2v1h-2zM484 175h1v1h-1zM490 175h1v1h-1zM483 176h1v1h-1zM491 176h1v1h-1zM483 177h1v1h-1zM491 177h1v1h-1zM483 178h1v1h-1zM491 178h1v1h-1zM484 179h1v1h-1zM490 179h1v1h-1zM484 180h2v1h-2zM489 180h2v1h-2zM486 181h3v1h-3zM490 173h3v1h-3zM488 174h2v1h-2zM493 174h2v1h-2zM488 175h1v1h-1zM494 175h1v1h-1zM487 176h1v1h-1zM495 176h1v1h-1zM487 177h1v1h-1zM495 177h1v1h-1zM487 178h1v1h-1zM495 178h1v1h-1zM488 179h1v1h-1zM494 179h1v1h-1zM488 180h2v1h-2zM493 180h2v1h-2zM490 181h3v1h-3zM493 173h3v1h-3zM491 174h2v1h-2zM496 174h2v1h-2zM491 175h1v1h-1zM497 175h1v1h-1zM490 176h1v1h-1zM498 176h1v1h-1zM490 177h1v1h-1zM498 177h1v1h-1zM490 178h1v1h-1zM498 178h1v1h-1zM491 179h1v1h-1zM497 179h1v1h-1zM491 180h2v1h-2zM496 180h2v1h-2zM493 181h3v1h-3zM496 175h3v1h-3zM494 176h2v1h-2zM499 176h2v1h-2zM494 177h1v1h-1zM500 177h1v1h-1zM493 178h1v1h-1zM501 178h1v1h-1zM493 179h1v1h-1zM501 179h1v1h-1zM493 180h1v1h-1zM501 180h1v1h-1zM494 181h1v1h-1zM500 181h1v1h-1zM494 182h2v1h-2zM499 182h2v1h-2zM496 183h3v1h-3zM500 175h3v1h-3zM498 176h2v1h-2zM503 176h2v1h-2zM498 177h1v1h-1zM504 177h1v1h-1zM497 178h1v1h-1zM505 178h1v1h-1zM497 179h1v1h-1zM505 179h1v1h-1zM497 180h1v1h-1zM505 180h1v1h-1zM498 181h1v1h-1zM504 181h1v1h-1zM498 182h2v1h-2zM503 182h2v1h-2zM500 183h3v1h-3zM503 175h3v1h-3zM501 176h2v1h-2zM506 176h2v1h-2zM501 177h1v1h-1zM507 177h1v1h-1zM500 178h1v1h-1zM508 178h1v1h-1zM500 179h1v1h-1zM508 179h1v1h-1zM500 180h1v1h-1zM508 180h1v1h-1zM501 181h1v1h-1zM507 181h1v1h-1zM501 182h2v1h-2zM506 182h2v1h-2zM503 183h3v1h-3zM506 176h3v1h-3zM504 177h2v1h-2zM509 177h2v1h-2zM504 178h1v1h-1zM510 178h1v1h-1zM503 179h1v1h-1zM511 179h1v1h-1zM503 180h1v1h-1zM511 180h1v1h-1zM503 181h1v1h-1zM511 181h1v1h-1zM504 182h1v1h-1zM510 182h1v1h-1zM504 183h2v1h-2zM509 183h2v1h-2zM506 184h3v1h-3zM510 176h3v1h-3zM508 177h2v1h-2zM513 177h2v1h-2zM508 178h1v1h-1zM514 178h1v1h-1zM507 179h1v1h-1zM515 179h1v1h-1zM507 180h1v1h-1zM515 180h1v1h-1zM507 181h1v1h-1zM515 181h1v1h-1zM508 182h1v1h-1zM514 182h1v1h-1zM508 183h2v1h-2zM513 183h2v1h-2zM510 184h3v1h-3zM513 176h3v1h-3zM511 177h2v1h-2zM516 177h2v1h-2zM511 178h1v1h-1zM517 178h1v1h-1zM510 179h1v1h-1zM518 179h1v1h-1zM510 180h1v1h-1zM518 180h1v1h-1zM510 181h1v1h-1zM518 181h1v1h-1zM511 182h1v1h-1zM517 182h1v1h-1zM511 183h2v1h-2zM516 183h2v1h-2zM513 184h3v1h-3zM516 178h3v1h-3zM514 179h2v1h-2zM519 179h2v1h-2zM514 180h1v1h-1zM520 180h1v1h-1zM513 181h1v1h-1zM521 181h1v1h-1zM513 182h1v1h-1zM521 182h1v1h-1zM513 183h1v1h-1zM521 183h1v1h-1zM514 184h1v1h-1zM520 184h1v1h-1zM514 185h2v1h-2zM519 185h2v1h-2zM516 186h3v1h-3zM520 178h3v1h-3zM518 179h2v1h-2zM523 179h2v1h-2zM518 180h1v1h-1zM524 180h1v1h-1zM517 181h1v1h-1zM525 181h1v1h-1zM517 182h1v1h-1zM525 182h1v1h-1zM517 183h1v1h-1zM525 183h1v1h-1zM518 184h1v1h-1zM524 184h1v1h-1zM518 185h2v1h-2zM523 185h2v1h-2zM520 186h3v1h-3zM523 178h3v1h-3zM521 179h2v1h-2zM526 179h2v1h-2zM521 180h1v1h-1zM527 180h1v1h-1zM520 181h1v1h-1zM528 181h1v1h-1zM520 182h1v1h-1zM528 182h1v1h-1zM520 183h1v1h-1zM528 183h1v1h-1zM521 184h1v1h-1zM527 184h1v1h-1zM521 185h2v1h-2zM526 185h2v1h-2zM523 186h3v1h-3zM526 178h3v1h-3zM524 179h2v1h-2zM529 179h2v1h-2zM524 180h1v1h-1zM530 180h1v1h-1zM523 181h1v1h-1zM531 181h1v1h-1zM523 182h1v1h-1zM531 182h1v1h-1zM523 183h1v1h-1zM531 183h1v1h-1zM524 184h1v1h-1zM530 184h1v1h-1zM524 185h2v1h-2zM529 185h2v1h-2zM526 186h3v1h-3zM530 178h3v1h-3zM528 179h2v1h-2zM533 179h2v1h-2zM528 180h1v1h-1zM534 180h1v1h-1zM527 181h1v1h-1zM535 181h1v1h-1zM527 182h1v1h-1zM535 182h1v1h-1zM527 183h1v1h-1zM535 183h1v1h-1zM528 184h1v1h-1zM534 184h1v1h-1zM528 185h2v1h-2zM533 185h2v1h-2zM530 186h3v1h-3zM533 180h3v1h-3zM531 181h2v1h-2zM536 181h2v1h-2zM531 182h1v1h-1zM537 182h1v1h-1zM530 183h1v1h-1zM538 183h1v1h-1zM530 184h1v1h-1zM538 184h1v1h-1zM530 185h1v1h-1zM538 185h1v1h-1zM531 186h1v1h-1zM537 186h1v1h-1zM531 187h2v1h-2zM536 187h2v1h-2zM533 188h3v1h-3zM536 180h3v1h-3zM534 181h2v1h-2zM539 181h2v1h-2zM534 182h1v1h-1zM540 182h1v1h-1zM533 183h1v1h-1zM541 183h1v1h-1zM533 184h1v1h-1zM541 184h1v1h-1zM533 185h1v1h-1zM541 185h1v1h-1zM534 186h1v1h-1zM540 186h1v1h-1zM534 187h2v1h-2zM539 187h2v1h-2zM536 188h3v1h-3zM540 180h3v1h-3zM538 181h2v1h-2zM543 181h2v1h-2zM538 182h1v1h-1zM544 182h1v1h-1zM537 183h1v1h-1zM545 183h1v1h-1zM537 184h1v1h-1zM545 184h1v1h-1zM537 185h1v1h-1zM545 185h1v1h-1zM538 186h1v1h-1zM544 186h1v1h-1zM538 187h2v1h-2zM543 187h2v1h-2zM540 188h3v1h-3zM543 180h3v1h-3zM541 181h2v1h-2zM546 181h2v1h-2zM541 182h1v1h-1zM547 182h1v1h-1zM540 183h1v1h-1zM548 183h1v1h-1zM540 184h1v1h-1zM548 184h1v1h-1zM540 185h1v1h-1zM548 185h1v1h-1zM541 186h1v1h-1zM547 186h1v1h-1zM541 187h2v1h-2zM546 187h2v1h-2zM543 188h3v1h-3zM546 180h3v1h-3zM544 181h2v1h-2zM549 181h2v1h-2zM544 182h1v1h-1zM550 182h1v1h-1zM543 183h1v1h-1zM551 183h1v1h-1zM543 184h1v1h-1zM551 184h1v1h-1zM543 185h1v1h-1zM551 185h1v1h-1zM544 186h1v1h-1zM550 186h1v1h-1zM544 187h2v1h-2zM549 187h2v1h-2zM546 188h3v1h-3zM550 182h3v1h-3zM548 183h2v1h-2zM553 183h2v1h-2zM548 184h1v1h-1zM554 184h1v1h-1zM547 185h1v1h-1zM555 185h1v1h-1zM547 186h1v1h-1zM555 186h1v1h-1zM547 187h1v1h-1zM555 187h1v1h-1zM548 188h1v1h-1zM554 188h1v1h-1zM548 189h2v1h-2zM553 189h2v1h-2zM550 190h3v1h-3zM553 182h3v1h-3zM551 183h2v1h-2zM556 183h2v1h-2zM551 184h1v1h-1zM557 184h1v1h-1zM550 185h1v1h-1zM558 185h1v1h-1zM550 186h1v1h-1zM558 186h1v1h-1zM550 187h1v1h-1zM558 187h1v1h-1zM551 188h1v1h-1zM557 188h1v1h-1zM551 189h2v1h-2zM556 189h2v1h-2zM553 190h3v1h-3zM556 182h3v1h-3zM554 183h2v1h-2zM559 183h2v1h-2zM554 184h1v1h-1zM560 184h1v1h-1zM553 185h1v1h-1zM561 185h1v1h-1zM553 186h1v1h-1zM561 186h1v1h-1zM553 187h1v1h-1zM561 187h1v1h-1zM554 188h1v1h-1zM560 188h1v1h-1zM554 189h2v1h-2zM559 189h2v1h-2zM556 190h3v1h-3zM560 182h3v1h-3zM558 183h2v1h-2zM563 183h2v1h-2zM558 184h1v1h-1zM564 184h1v1h-1zM557 185h1v1h-1zM565 185h1v1h-1zM557 186h1v1h-1zM565 186h1v1h-1zM557 187h1v1h-1zM565 187h1v1h-1zM558 188h1v1h-1zM564 188h1v1h-1zM558 189h2v1h-2zM563 189h2v1h-2zM560 190h3v1h-3zM563 184h3v1h-3zM561 185h2v1h-2zM566 185h2v1h-2zM561 186h1v1h-1zM567 186h1v1h-1zM560 187h1v1h-1zM568 187h1v1h-1zM560 188h1v1h-1zM568 188h1v1h-1zM560 189h1v1h-1zM568 189h1v1h-1zM561 190h1v1h-1zM567 190h1v1h-1zM561 191h2v1h-2zM566 191h2v1h-2zM563 192h3v1h-3zM566 184h3v1h-3zM564 185h2v1h-2zM569 185h2v1h-2zM564 186h1v1h-1zM570 186h1v1h-1zM563 187h1v1h-1zM571 187h1v1h-1zM563 188h1v1h-1zM571 188h1v1h-1zM563 189h1v1h-1zM571 189h1v1h-1zM564 190h1v1h-1zM570 190h1v1h-1zM564 191h2v1h-2zM569 191h2v1h-2zM566 192h3v1h-3zM570 184h3v1h-3zM568 185h2v1h-2zM573 185h2v1h-2zM568 186h1v1h-1zM574 186h1v1h-1zM567 187h1v1h-1zM575 187h1v1h-1zM567 188h1v1h-1zM575 188h1v1h-1zM567 189h1v1h-1zM575 189h1v1h-1zM568 190h1v1h-1zM574 190h1v1h-1zM568 191h2v1h-2zM573 191h2v1h-2zM570 192h3v1h-3zM573 184h3v1h-3zM571 185h2v1h-2zM576 185h2v1h-2zM571 186h1v1h-1zM577 186h1v1h-1zM570 187h1v1h-1zM578 187h1v1h-1zM570 188h1v1h-1zM578 188h1v1h-1zM570 189h1v1h-1zM578 189h1v1h-1zM571 190h1v1h-1zM577 190h1v1h-1zM571 191h2v1h-2zM576 191h2v1h-2zM573 192h3v1h-3zM576 184h3v1h-3zM574 185h2v1h-2zM579 185h2v1h-2zM574 186h1v1h-1zM580 186h1v1h-1zM573 187h1v1h-1zM581 187h1v1h-1zM573 188h1v1h-1zM581 188h1v1h-1zM573 189h1v1h-1zM581 189h1v1h-1zM574 190h1v1h-1zM580 190h1v1h-1zM574 191h2v1h-2zM579 191h2v1h-2zM576 192h3v1h-3zM580 184h3v1h-3zM578 185h2v1h-2zM583 185h2v1h-2zM578 186h1v1h-1zM584 186h1v1h-1zM577 187h1v1h-1zM585 187h1v1h-1zM577 188h1v1h-1zM585 188h1v1h-1zM577 189h1v1h-1zM585 189h1v1h-1zM578 190h1v1h-1zM584 190h1v1h-1zM578 191h2v1h-2zM583 191h2v1h-2zM580 192h3v1h-3zM583 184h3v1h-3zM581 185h2v1h-2zM586 185h2v1h-2zM581 186h1v1h-1zM587 186h1v1h-1zM580 187h1v1h-1zM588 187h1v1h-1zM580 188h1v1h-1zM588 188h1v1h-1zM580 189h1v1h-1zM588 189h1v1h-1zM581 190h1v1h-1zM587 190h1v1h-1zM581 191h2v1h-2zM586 191h2v1h-2zM583 192h3v1h-3zM586 184h3v1h-3zM584 185h2v1h-2zM589 185h2v1h-2zM584 186h1v1h-1zM590 186h1v1h-1zM583 187h1v1h-1zM591 187h1v1h-1zM583 188h1v1h-1zM591 188h1v1h-1zM583 189h1v1h-1zM591 189h1v1h-1zM584 190h1v1h-1zM590 190h1v1h-1zM584 191h2v1h-2zM589 191h2v1h-2zM586 192h3v1h-3zM590 184h3v1h-3zM588 185h2v1h-2zM593 185h2v1h-2zM588 186h1v1h-1zM594 186h1v1h-1zM587 187h1v1h-1zM595 187h1v1h-1zM587 188h1v1h-1zM595 188h1v1h-1zM587 189h1v1h-1zM595 189h1v1h-1zM588 190h1v1h-1zM594 190h1v1h-1zM588 191h2v1h-2zM593 191h2v1h-2zM590 192h3v1h-3zM593 184h3v1h-3zM591 185h2v1h-2zM596 185h2v1h-2zM591 186h1v1h-1zM597 186h1v1h-1zM590 187h1v1h-1zM598 187h1v1h-1zM590 188h1v1h-1zM598 188h1v1h-1zM590 189h1v1h-1zM598 189h1v1h-1zM591 190h1v1h-1zM597 190h1v1h-1zM591 191h2v1h-2zM596 191h2v1h-2zM593 192h3v1h-3zM596 186h3v1h-3zM594 187h2v1h-2zM599 187h2v1h-2zM594 188h1v1h-1zM600 188h1v1h-1zM593 189h1v1h-1zM601 189h1v1h-1zM593 190h1v1h-1zM601 190h1v1h-1zM593 191h1v1h-1zM601 191h1v1h-1zM594 192h1v1h-1zM600 192h1v1h-1zM594 193h2v1h-2zM599 193h2v1h-2zM596 194h3v1h-3zM600 186h3v1h-3zM598 187h2v1h-2zM603 187h2v1h-2zM598 188h1v1h-1zM604 188h1v1h-1zM597 189h1v1h-1zM605 189h1v1h-1zM597 190h1v1h-1zM605 190h1v1h-1zM597 191h1v1h-1zM605 191h1v1h-1zM598 192h1v1h-1zM604 192h1v1h-1zM598 193h2v1h-2zM603 193h2v1h-2zM600 194h3v1h-3zM603 186h3v1h-3zM601 187h2v1h-2zM606 187h2v1h-2zM601 188h1v1h-1zM607 188h1v1h-1zM600 189h1v1h-1zM608 189h1v1h-1zM600 190h1v1h-1zM608 190h1v1h-1zM600 191h1v1h-1zM608 191h1v1h-1zM601 192h1v1h-1zM607 192h1v1h-1zM601 193h2v1h-2zM606 193h2v1h-2zM603 194h3v1h-3zM606 186h3v1h-3zM604 187h2v1h-2zM609 187h2v1h-2zM604 188h1v1h-1zM610 188h1v1h-1zM603 189h1v1h-1zM611 189h1v1h-1zM603 190h1v1h-1zM611 190h1v1h-1zM603 191h1v1h-1zM611 191h1v1h-1zM604 192h1v1h-1zM610 192h1v1h-1zM604 193h2v1h-2zM609 193h2v1h-2zM606 194h3v1h-3zM610 186h3v1h-3zM608 187h2v1h-2zM613 187h2v1h-2zM608 188h1v1h-1zM614 188h1v1h-1zM607 189h1v1h-1zM615 189h1v1h-1zM607 190h1v1h-1zM615 190h1v1h-1zM607 191h1v1h-1zM615 191h1v1h-1zM608 192h1v1h-1zM614 192h1v1h-1zM608 193h2v1h-2zM613 193h2v1h-2zM610 194h3v1h-3zM613 186h3v1h-3zM611 187h2v1h-2zM616 187h2v1h-2zM611 188h1v1h-1zM617 188h1v1h-1zM610 189h1v1h-1zM618 189h1v1h-1zM610 190h1v1h-1zM618 190h1v1h-1zM610 191h1v1h-1zM618 191h1v1h-1zM611 192h1v1h-1zM617 192h1v1h-1zM611 193h2v1h-2zM616 193h2v1h-2zM613 194h3v1h-3zM616 186h3v1h-3zM614 187h2v1h-2zM619 187h2v1h-2zM614 188h1v1h-1zM620 188h1v1h-1zM613 189h1v1h-1zM621 189h1v1h-1zM613 190h1v1h-1zM621 190h1v1h-1zM613 191h1v1h-1zM621 191h1v1h-1zM614 192h1v1h-1zM620 192h1v1h-1zM614 193h2v1h-2zM619 193h2v1h-2zM616 194h3v1h-3zM620 186h3v1h-3zM618 187h2v1h-2zM623 187h2v1h-2zM618 188h1v1h-1zM624 188h1v1h-1zM617 189h1v1h-1zM625 189h1v1h-1zM617 190h1v1h-1zM625 190h1v1h-1zM617 191h1v1h-1zM625 191h1v1h-1zM618 192h1v1h-1zM624 192h1v1h-1zM618 193h2v1h-2zM623 193h2v1h-2zM620 194h3v1h-3zM623 186h3v1h-3zM621 187h2v1h-2zM626 187h2v1h-2zM621 188h1v1h-1zM627 188h1v1h-1zM620 189h1v1h-1zM628 189h1v1h-1zM620 190h1v1h-1zM628 190h1v1h-1zM620 191h1v1h-1zM628 191h1v1h-1zM621 192h1v1h-1zM627 192h1v1h-1zM621 193h2v1h-2zM626 193h2v1h-2zM623 194h3v1h-3zM626 186h3v1h-3zM624 187h2v1h-2zM629 187h2v1h-2zM624 188h1v1h-1zM630 188h1v1h-1zM623 189h1v1h-1zM631 189h1v1h-1zM623 190h1v1h-1zM631 190h1v1h-1zM623 191h1v1h-1zM631 191h1v1h-1zM624 192h1v1h-1zM630 192h1v1h-1zM624 193h2v1h-2zM629 193h2v1h-2zM626 194h3v1h-3zM630 186h3v1h-3zM628 187h2v1h-2zM633 187h2v1h-2zM628 188h1v1h-1zM634 188h1v1h-1zM627 189h1v1h-1zM635 189h1v1h-1zM627 190h1v1h-1zM635 190h1v1h-1zM627 191h1v1h-1zM635 191h1v1h-1zM628 192h1v1h-1zM634 192h1v1h-1zM628 193h2v1h-2zM633 193h2v1h-2zM630 194h3v1h-3zM633 186h3v1h-3zM631 187h2v1h-2zM636 187h2v1h-2zM631 188h1v1h-1zM637 188h1v1h-1zM630 189h1v1h-1zM638 189h1v1h-1zM630 190h1v1h-1zM638 190h1v1h-1zM630 191h1v1h-1zM638 191h1v1h-1zM631 192h1v1h-1zM637 192h1v1h-1zM631 193h2v1h-2zM636 193h2v1h-2zM633 194h3v1h-3z"/>
<rect x="512" y="84" width="164" height="43" fill="#fff"/>
<path class="px" fill="#000" d="M512 84h164v1h-164zM512 126h164v1h-164zM512 84h1v43h-1zM675 84h1v43h-1z"/>
<path class="px" fill="#000" d="M538 93h1v1h-1zM539 94h1v1h-1zM540 95h1v1h-1zM541 96h1v1h-1zM542 97h1v1h-1zM538 97h1v1h-1zM539 96h1v1h-1zM541 94h1v1h-1zM542 93h1v1h-1z"/>
<path class="px" fill="#00f" d="M539 110h3v1h-3zM537 111h2v1h-2zM542 111h2v1h-2zM537 112h1v1h-1zM543 112h1v1h-1zM536 113h1v1h-1zM544 113h1v1h-1zM536 114h1v1h-1zM544 114h1v1h-1zM536 115h1v1h-1zM544 115h1v1h-1zM537 116h1v1h-1zM543 116h1v1h-1zM537 117h2v1h-2zM542 117h2v1h-2zM539 118h3v1h-3z"/>
<text y="101"><tspan x="563.212" textLength="17.011" lengthAdjust="spacingAndGlyphs">No</tspan> <tspan x="584.054" textLength="32.155" lengthAdjust="spacingAndGlyphs">Cover</tspan></text>
<text y="120"><tspan x="563.401" textLength="29.124" lengthAdjust="spacingAndGlyphs">Final</tspan> <tspan x="596.105" textLength="46.171" lengthAdjust="spacingAndGlyphs">CoNetic</tspan> <tspan x="645.591" textLength="23.33" lengthAdjust="spacingAndGlyphs">Box</tspan></text>
<text y="67"><tspan x="197.433" textLength="16.562" lengthAdjust="spacingAndGlyphs">By</tspan> <tspan x="217.68" textLength="22.647" lengthAdjust="spacingAndGlyphs">field</tspan> <tspan x="244.273" textLength="24.039" lengthAdjust="spacingAndGlyphs">vs.Z</tspan> <tspan x="272.245" textLength="31.179" lengthAdjust="spacingAndGlyphs">along</tspan> <tspan x="306.715" textLength="34.67" lengthAdjust="spacingAndGlyphs">Beam</tspan> <tspan x="345.227" textLength="57.292" lengthAdjust="spacingAndGlyphs">Centerline</tspan> <tspan x="406.9" textLength="25.029" lengthAdjust="spacingAndGlyphs">Axis</tspan> <tspan x="436.531" textLength="39.298" lengthAdjust="spacingAndGlyphs">Linmot</tspan> <tspan x="480.25" textLength="10.519" lengthAdjust="spacingAndGlyphs">at</tspan> <tspan x="495.745" textLength="35.411" lengthAdjust="spacingAndGlyphs">center</tspan> <tspan x="535.571" textLength="44.84" lengthAdjust="spacingAndGlyphs">position</tspan></text>
<text y="945"><tspan x="372.533" textLength="7.992" lengthAdjust="spacingAndGlyphs">Z</tspan> <tspan x="383.311" textLength="20.779" lengthAdjust="spacingAndGlyphs">(m)</tspan></text>
<text transform="translate(61 542.8) rotate(-90)"><tspan x="-1.167" textLength="15.254" lengthAdjust="spacingAndGlyphs">By</tspan> <tspan x="18.123" textLength="28.586" lengthAdjust="spacingAndGlyphs">Field</tspan> <tspan x="51.49" textLength="45.336" lengthAdjust="spacingAndGlyphs">(Gauss)</tspan></text>
<text transform="translate(85 928) scale(0.9 1)" x="0 4.444 12.222 16.667">-0.2</text>
<text transform="translate(165 928) scale(0.9 1)" x="0 4.444 12.222 16.667 24.444">-0.15</text>
<text transform="translate(251 928) scale(0.9 1)" x="0 4.444 12.222 16.667">-0.1</text>
<text transform="translate(331 928) scale(0.9 1)" x="0 4.444 12.222 16.667 24.444">-0.05</text>
<text transform="translate(428 928) scale(0.9 1)" x="0">0</text>
<text transform="translate(502 928) scale(0.9 1)" x="0 7.778 12.222 20">0.05</text>
<text transform="translate(588 928) scale(0.9 1)" x="0 7.778 12.222">0.1</text>
<text transform="translate(669 928) scale(0.9 1)" x="0 7.778 12.222 20">0.15</text>
<text transform="translate(87 82) scale(0.9 1)" x="0">1</text>
<text transform="translate(76 174) scale(0.9 1)" x="0 7.778 12.222">0.5</text>
<text transform="translate(87 267) scale(0.9 1)" x="0">0</text>
<text transform="translate(72 360) scale(0.9 1)" x="0 4.444 12.222 16.667">-0.5</text>
<text transform="translate(83 453) scale(0.9 1)" x="0 4.444">-1</text>
<text transform="translate(72 545) scale(0.9 1)" x="0 4.444 12.222 16.667">-1.5</text>
<text transform="translate(83 638) scale(0.9 1)" x="0 4.444">-2</text>
<text transform="translate(72 731) scale(0.9 1)" x="0 4.444 12.222 16.667">-2.5</text>
<text transform="translate(83 824) scale(0.9 1)" x="0 4.444">-3</text>
<text transform="translate(72 917) scale(0.9 1)" x="0 4.444 12.222 16.667">-3.5</text>
</svg>
</body>
</html>
